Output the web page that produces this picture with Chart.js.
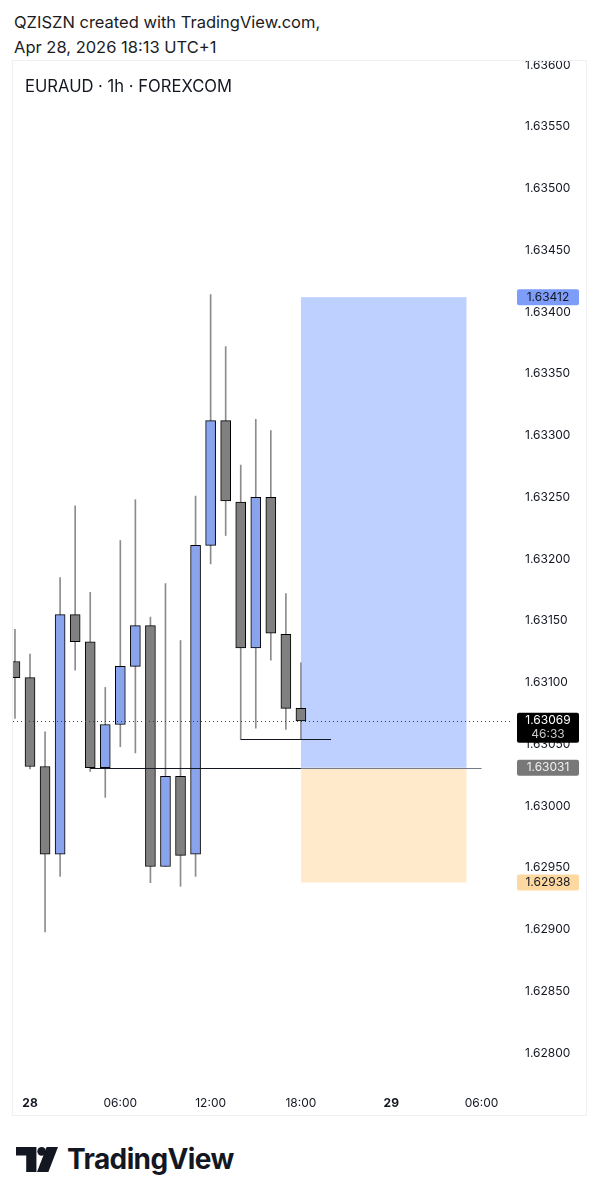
<!DOCTYPE html>
<html>
<head>
<meta charset="utf-8">
<script src="https://cdn.jsdelivr.net/npm/chart.js@4.4.1/dist/chart.umd.min.js"></script>
<style>
  html, body { margin: 0; padding: 0; background: #fff; }
  body { width: 601px; height: 1199px; position: relative; overflow: hidden; font-family: Inter, "Noto Sans", sans-serif; color: #131722; }
  .hdr { position: absolute; left: 14px; font-size: 16.5px; line-height: 20px; color: #1c1c1e; white-space: nowrap; }
  #panel { position: absolute; left: 12px; top: 60px; width: 573px; height: 1054px; border: 1px solid #eef0f4; }
  #symbol { position: absolute; left: 25px; top: 76px; font-size: 16.6px; line-height: 20px; color: #131722; z-index: 2; white-space: nowrap; }
  #logo { position: absolute; left: 16px; top: 1142px; display: flex; align-items: center; }
  #logo span { font-size: 28px; font-weight: 700; letter-spacing: -0.6px; color: #131722; margin-left: 9px; line-height: 34px; }
</style>
</head>
<body>
<div class="hdr" style="top:12px">QZISZN created with TradingView.com,</div>
<div class="hdr" style="top:37px">Apr 28, 2026 18:13 UTC+1</div>
<div id="symbol">EURAUD · 1h · FOREXCOM</div>
<div id="panel"><canvas id="chart"></canvas></div>
<div id="logo">
  <svg width="42" height="25" viewBox="0 0 37 22">
    <path d="M0 0H18V22H9V7.5H0Z" fill="#131722"/>
    <circle cx="22.6" cy="3.8" r="3.8" fill="#131722"/>
    <path d="M27 0H37L28.5 22H18.5Z" fill="#131722"/>
  </svg>
  <span>TradingView</span>
</div>
<script>
// hours from 28 Apr 00:00
const hours  = [-1, 0, 1, 2, 3, 4, 5, 6, 7, 8, 9, 10, 11, 12, 13, 14, 15, 16, 17, 18];
const opens  = [1.63117, 1.63104, 1.63032, 1.62961, 1.63155, 1.63133, 1.63031, 1.63066, 1.63113, 1.63146,
                1.62951, 1.63024, 1.62961, 1.63211, 1.63312, 1.63246, 1.63128, 1.63250, 1.63139, 1.63079];
const highs  = [1.63143, 1.63123, 1.63060, 1.63185, 1.63243, 1.63173, 1.63096, 1.63215, 1.63248, 1.63153,
                1.63180, 1.63134, 1.63251, 1.63414, 1.63372, 1.63276, 1.63313, 1.63304, 1.63172, 1.63116];
const lows   = [1.63071, 1.63030, 1.62898, 1.62943, 1.63110, 1.63028, 1.63007, 1.63048, 1.63043, 1.62938,
                1.62951, 1.62935, 1.62943, 1.63196, 1.63219, 1.63054, 1.63063, 1.63118, 1.63062, 1.63054];
const closes = [1.63104, 1.63032, 1.62961, 1.63155, 1.63133, 1.63031, 1.63066, 1.63113, 1.63146, 1.62951,
                1.63024, 1.62960, 1.63211, 1.63312, 1.63247, 1.63128, 1.63250, 1.63140, 1.63079, 1.63069];

const timeTicks  = [0, 6, 12, 18, 24, 30];
const timeLabels = ['28', '06:00', '12:00', '18:00', '29', '06:00'];
const priceTicks = [1.628, 1.6285, 1.629, 1.6295, 1.630, 1.6305, 1.631, 1.6315, 1.632, 1.6325, 1.633, 1.6335, 1.634, 1.6345, 1.635, 1.6355, 1.636];

// long position tool
const posFrom = 18, posTo = 29;
const posEntry = 1.63031, posTarget = 1.63412, posStop = 1.62938;
// drawn lines: [fromHour, toHour, price, colour]
const hLines = [
  [4, 18, 1.63031, '#131722'],
  [18, 30, 1.63031, '#787b86'],
  [14, 20, 1.63054, '#131722']
];
const lastPrice = 1.63069;
const countdown = '46:33';

const blue = '#89a3ec', gray = '#808080';
const bodyColors = opens.map((o, i) => closes[i] >= o ? blue : gray);

Chart.defaults.font.family = 'Inter, "Noto Sans", sans-serif';

// scales otherwise reserve room for half a label at the ends
function noPad(s) {
  s.paddingTop = 0; s.paddingBottom = 0; s.paddingLeft = 0; s.paddingRight = 0;
}

const drawings = {
  id: 'drawings',
  beforeDatasetsDraw(chart) {
    const { ctx, chartArea, scales: { x, y } } = chart;
    ctx.save();
    ctx.beginPath();
    ctx.rect(chartArea.left, chartArea.top, chartArea.width, chartArea.height);
    ctx.clip();
    const x0 = x.getPixelForValue(posFrom), x1 = x.getPixelForValue(posTo);
    const yt = y.getPixelForValue(posTarget), ye = y.getPixelForValue(posEntry), ys = y.getPixelForValue(posStop);
    ctx.fillStyle = 'rgba(41, 98, 255, 0.3)';
    ctx.fillRect(x0, yt, x1 - x0, ye - yt);
    ctx.fillStyle = 'rgba(255, 152, 0, 0.2)';
    ctx.fillRect(x0, ye, x1 - x0, ys - ye);
    ctx.restore();
  },
  afterDatasetsDraw(chart) {
    const { ctx, chartArea, scales: { x, y } } = chart;
    ctx.save();
    ctx.beginPath();
    ctx.rect(chartArea.left, chartArea.top, chartArea.width, chartArea.height);
    ctx.clip();
    ctx.lineWidth = 1;
    hLines.forEach(([a, b, p, c]) => {
      const py = Math.round(y.getPixelForValue(p)) + 0.5;
      ctx.strokeStyle = c;
      ctx.beginPath();
      ctx.moveTo(x.getPixelForValue(a), py);
      ctx.lineTo(x.getPixelForValue(b), py);
      ctx.stroke();
    });
    // last price dotted line
    const ly = Math.round(y.getPixelForValue(lastPrice)) + 0.5;
    ctx.strokeStyle = '#3c3f47';
    ctx.setLineDash([1, 3]);
    ctx.beginPath();
    ctx.moveTo(chartArea.left, ly);
    ctx.lineTo(chartArea.right, ly);
    ctx.stroke();
    ctx.restore();
  },
  afterDraw(chart) {
    const { ctx, scales: { y } } = chart;
    const bx = y.left + 7, bw = 62;
    function tag(p, bg, fg, h, lines) {
      const py = y.getPixelForValue(p);
      const top = py - 8;
      ctx.fillStyle = bg;
      ctx.beginPath();
      ctx.roundRect(bx, top, bw, h, 2);
      ctx.fill();
      ctx.textAlign = 'center';
      ctx.textBaseline = 'middle';
      ctx.font = '12px Inter, "Noto Sans", sans-serif';
      lines.forEach((t, i) => {
        ctx.fillStyle = i === 0 ? fg : '#c8c8c8';
        ctx.fillText(t, bx + bw / 2, py + i * 14);
      });
    }
    ctx.save();
    tag(posTarget, '#7d9df8', '#131722', 16, [posTarget.toFixed(5)]);
    tag(posEntry, '#787878', '#f0f0f0', 16, [posEntry.toFixed(5)]);
    tag(posStop, '#fdd8a0', '#131722', 16, [posStop.toFixed(5)]);
    tag(lastPrice, '#000000', '#ffffff', 30, [lastPrice.toFixed(5), countdown]);
    ctx.restore();
  }
};

new Chart(document.getElementById('chart'), {
  type: 'bar',
  data: {
    datasets: [
      {
        label: 'body',
        data: hours.map((h, i) => ({ x: h, y: [opens[i], closes[i]] })),
        backgroundColor: bodyColors,
        borderColor: '#000',
        borderWidth: 1,
        borderSkipped: false,
        barThickness: 10,
        grouped: false,
        order: 0
      },
      {
        label: 'wick',
        data: hours.map((h, i) => ({ x: h, y: [lows[i], highs[i]] })),
        backgroundColor: '#8c8c8c',
        borderWidth: 0,
        barThickness: 1,
        grouped: false,
        order: 1
      }
    ]
  },
  options: {
    responsive: true,
    maintainAspectRatio: false,
    animation: false,
    layout: { padding: 0, autoPadding: false },
    plugins: { legend: { display: false }, title: { display: false }, tooltip: { enabled: false } },
    scales: {
      x: {
        type: 'linear',
        min: -1.13,
        max: 31.89,
        offset: false,
        grid: { display: false, drawTicks: false },
        border: { display: false },
        afterBuildTicks: s => { s.ticks = timeTicks.map(v => ({ value: v })); },
        afterFit: s => { s.height = 27; noPad(s); },
        ticks: {
          padding: 8,
          maxRotation: 0,
          autoSkip: false,
          color: '#131722',
          font: ctx => ({ size: 12, weight: (ctx.tick && (ctx.tick.value === 0 || ctx.tick.value === 24)) ? '700' : '400' }),
          callback: v => timeLabels[timeTicks.indexOf(v)]
        }
      },
      y: {
        position: 'right',
        min: 1.627717,
        max: 1.636032,
        grid: { display: false, drawTicks: false },
        border: { display: false },
        afterBuildTicks: s => { s.ticks = priceTicks.map(v => ({ value: v })); },
        afterFit: s => { s.width = 76; noPad(s); },
        ticks: {
          padding: 15,
          autoSkip: false,
          color: '#131722',
          font: { size: 12 },
          callback: v => v.toFixed(5)
        }
      }
    }
  },
  plugins: [drawings]
});
</script>
</body>
</html>
